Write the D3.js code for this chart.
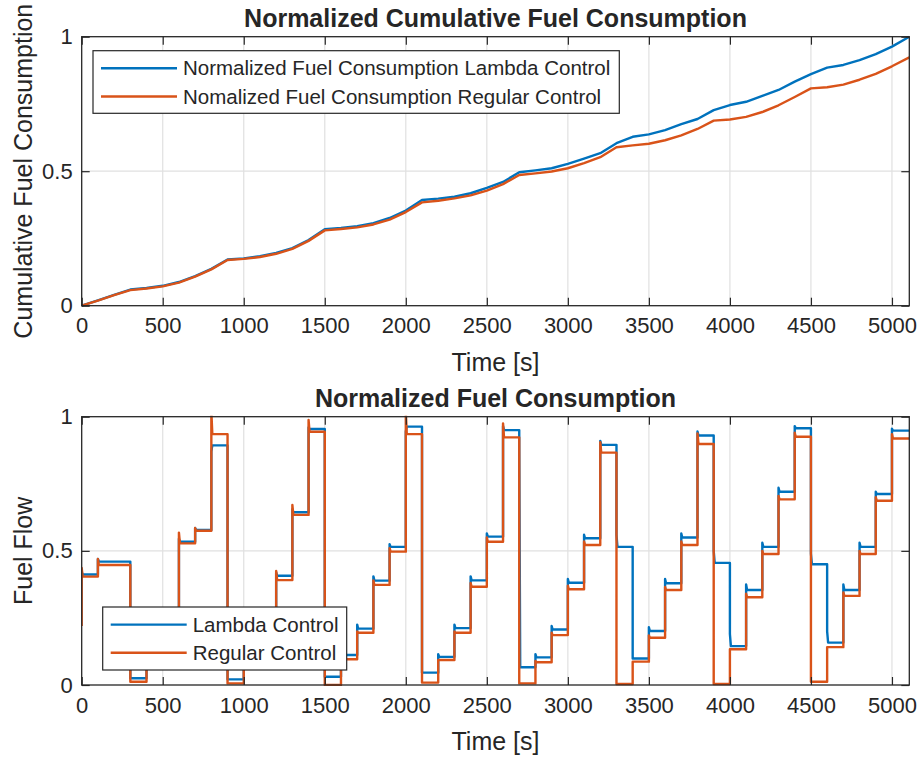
<!DOCTYPE html>
<meta charset="utf-8">
<html>
<head>
<script src="https://d3js.org/d3.v7.min.js"></script>
<style>
  body { margin: 0; background: #fff; }
  text { font-family: "Liberation Sans", Arial, Helvetica, sans-serif; fill: #262626; }
</style>
</head>
<body>
<svg width="921" height="760"></svg>
<script>

// time knots of the cumulative curves [s]
var cumTime = [0,100,200,300,400,500,600,700,800,900,1000,1100,1200,1300,1400,1500,1600,1700,1800,1900,
  2000,2100,2200,2300,2400,2500,2600,2700,2800,2900,3000,3100,3200,3300,3400,3500,3600,3700,3800,3900,
  4000,4100,4200,4300,4400,4500,4600,4700,4800,4900,5000,5107];

var lambdaCum = [0,0.02,0.04,0.06,0.066,0.074,0.088,0.11,0.137,0.172,0.176,0.184,0.196,0.214,0.244,0.284,0.289,0.296,0.307,0.326,
  0.354,0.393,0.398,0.405,0.418,0.438,0.46,0.496,0.503,0.511,0.527,0.547,0.567,0.604,0.628,0.637,0.653,0.675,0.694,0.727,
  0.746,0.758,0.78,0.802,0.833,0.861,0.885,0.895,0.913,0.935,0.963,1.0];

var regularCum = [0,0.019,0.039,0.058,0.064,0.072,0.086,0.108,0.135,0.17,0.174,0.181,0.193,0.211,0.241,0.28,0.285,0.291,0.302,0.32,
  0.348,0.384,0.39,0.399,0.41,0.428,0.452,0.486,0.492,0.499,0.511,0.53,0.552,0.589,0.596,0.602,0.615,0.633,0.657,0.688,
  0.692,0.702,0.72,0.745,0.776,0.808,0.812,0.822,0.84,0.862,0.89,0.923];

// set-point segments of the fuel flow [s]
var segStart = [0,100,200,300,400,500,600,700,800,900,1000,1100,1200,1300,1400,1500,1600,1700,1800,1900,
  2000,2100,2200,2300,2400,2500,2600,2700,2800,2900,3000,3100,3200,3300,3400,3500,3600,3700,3800,3900,
  4000,4100,4200,4300,4400,4500,4600,4700,4800,4900,5000];
var tEnd = 5107;

// value right after each step and settled value
var lambdaStart = [0.42,0.47,0.46,0.025,0.11,0.21,0.545,0.585,0.87,0.021,0.11,0.21,0.42,0.655,0.96,0.031,0.125,0.225,0.405,0.525,
  0.945,0.046,0.115,0.225,0.405,0.565,0.965,0.9,0.115,0.22,0.395,0.56,0.91,0.56,0.099,0.215,0.395,0.565,0.945,0.5,
  0.19,0.375,0.53,0.735,0.965,0.49,0.2,0.375,0.53,0.72,0.955];
var lambdaLevel = [0.412,0.46,0.46,0.025,0.11,0.21,0.534,0.578,0.893,0.021,0.11,0.21,0.407,0.644,0.954,0.031,0.112,0.21,0.389,0.515,
  0.963,0.046,0.105,0.212,0.39,0.553,0.95,0.066,0.103,0.207,0.381,0.547,0.895,0.515,0.099,0.201,0.379,0.55,0.93,0.455,
  0.145,0.354,0.515,0.72,0.957,0.45,0.158,0.354,0.515,0.712,0.948];

var regularInitial = 0.22;
var regularStart = [0.436,0.47,0.447,0.012,0.095,0.195,0.568,0.585,1.02,0.006,0.095,0.195,0.425,0.671,0.988,0,0.1,0.2,0.39,0.51,
  1.02,0.009,0.093,0.2,0.38,0.55,0.975,0.006,0.09,0.195,0.37,0.535,0.905,0.004,0.087,0.185,0.365,0.535,0.938,0.004,
  0.133,0.34,0.5,0.705,0.94,0.012,0.141,0.345,0.5,0.7,0.935];
var regularLevel = [0.404,0.447,0.447,0.012,0.095,0.195,0.528,0.575,0.935,0.006,0.095,0.195,0.391,0.634,0.944,0,0.096,0.195,0.373,0.497,
  0.935,0.009,0.093,0.195,0.366,0.534,0.923,0.006,0.085,0.186,0.357,0.522,0.866,0.004,0.087,0.176,0.354,0.522,0.898,0.004,
  0.133,0.327,0.488,0.692,0.925,0.012,0.141,0.332,0.488,0.687,0.919];

var xTicks = [0,500,1000,1500,2000,2500,3000,3500,4000,4500,5000];
var yTicks = [0,0.5,1];

var BLUE = "#0072BD", RED = "#D95319", AXC = "#262626";
var FONT = "'Liberation Sans', Arial, sans-serif";
var SETTLE = 6;

var svg = d3.select("svg");
var left = 81.7, right = 909.3;

var x = d3.scaleLinear().domain([0, tEnd]).range([left, right]);

function stepPoints(start, level, first) {
  var pts = [];
  if (first != null) pts.push([0, first]);
  segStart.forEach(function(t0, i) {
    var t1 = i + 1 < segStart.length ? segStart[i + 1] : tEnd;
    pts.push([t0, start[i]]);
    pts.push([t0 + SETTLE, level[i]]);
    pts.push([t1, level[i]]);
  });
  return pts;
}

function drawPanel(cfg) {
  var y = d3.scaleLinear().domain([0, 1]).range([cfg.bottom, cfg.top]);
  var g = svg.append("g");

  // grid
  g.append("g").selectAll("line").data(xTicks.slice(1)).enter().append("line")
    .attr("x1", function(d) { return x(d); }).attr("x2", function(d) { return x(d); })
    .attr("y1", cfg.top).attr("y2", cfg.bottom)
    .attr("stroke", "#e0e0e0").attr("stroke-width", 1.2);
  g.append("g").selectAll("line").data([0.5]).enter().append("line")
    .attr("x1", left).attr("x2", right)
    .attr("y1", function(d) { return y(d); }).attr("y2", function(d) { return y(d); })
    .attr("stroke", "#e0e0e0").attr("stroke-width", 1.2);

  // lines
  var clipId = "clip" + cfg.id;
  svg.append("clipPath").attr("id", clipId).append("rect")
    .attr("x", left).attr("y", cfg.top - 1).attr("width", right - left).attr("height", cfg.bottom - cfg.top + 2);
  var line = d3.line().x(function(d) { return x(d[0]); }).y(function(d) { return y(d[1]); });
  var lg = g.append("g").attr("clip-path", "url(#" + clipId + ")");
  cfg.series.forEach(function(s) {
    lg.append("path").datum(s.points).attr("d", line)
      .attr("fill", "none").attr("stroke", s.color).attr("stroke-width", 2.4)
      .attr("stroke-linejoin", "round");
  });

  // axes
  g.append("g").attr("transform", "translate(0," + cfg.bottom + ")")
    .call(d3.axisBottom(x).tickValues(xTicks).tickSizeInner(-8).tickSizeOuter(0).tickPadding(12)
      .tickFormat(d3.format("d")));
  g.append("g").attr("transform", "translate(0," + cfg.top + ")")
    .call(d3.axisTop(x).tickValues(xTicks).tickSizeInner(-8).tickSizeOuter(0).tickFormat(""));
  g.append("g").attr("transform", "translate(" + left + ",0)")
    .call(d3.axisLeft(y).tickValues(yTicks).tickSizeInner(-8).tickSizeOuter(0).tickPadding(9)
      .tickFormat(function(d) { return d === 0.5 ? "0.5" : d; }));
  g.append("g").attr("transform", "translate(" + right + ",0)")
    .call(d3.axisRight(y).tickValues(yTicks).tickSizeInner(-8).tickSizeOuter(0).tickFormat(""));
  g.selectAll(".domain").remove();
  g.selectAll(".tick line").attr("stroke", AXC).attr("stroke-width", 1.2);
  g.selectAll(".tick text").attr("font-size", 22).attr("font-family", FONT).attr("fill", AXC);

  g.append("rect").attr("x", left).attr("y", cfg.top).attr("width", right - left).attr("height", cfg.bottom - cfg.top)
    .attr("fill", "none").attr("stroke", AXC).attr("stroke-width", 1.3);

  // labels
  g.append("text").attr("x", (left + right) / 2).attr("y", cfg.top - 10)
    .attr("text-anchor", "middle").attr("font-size", 25).attr("font-weight", "bold").attr("fill", "#000")
    .text(cfg.title);
  g.append("text").attr("x", (left + right) / 2).attr("y", cfg.bottom + 65)
    .attr("text-anchor", "middle").attr("font-size", 25).text("Time [s]");
  g.append("text").attr("transform", "translate(32," + (cfg.top + cfg.bottom) / 2 + ") rotate(-90)")
    .attr("text-anchor", "middle").attr("font-size", 25).text(cfg.ylabel);

  // legend
  var L = cfg.legend;
  var leg = g.append("g");
  leg.append("rect").attr("x", L.x).attr("y", L.y).attr("width", L.w).attr("height", L.h)
    .attr("fill", "#fff").attr("stroke", AXC).attr("stroke-width", 1.2);
  cfg.series.forEach(function(s, i) {
    var yy = L.y + 17.6 + i * 28.2;
    leg.append("line").attr("x1", L.x + 8).attr("x2", L.x + 84).attr("y1", yy).attr("y2", yy)
      .attr("stroke", s.color).attr("stroke-width", 2.4);
    leg.append("text").attr("x", L.x + 90).attr("y", yy).attr("dy", "0.35em")
      .attr("font-size", 20.5).attr("fill", "#000").text(s.name);
  });
}

drawPanel({
  id: 1, top: 36.7, bottom: 305.7,
  title: "Normalized Cumulative Fuel Consumption",
  ylabel: "Cumulative Fuel Consumption",
  series: [
    {name: "Normalized Fuel Consumption Lambda Control", color: BLUE,
     points: cumTime.map(function(t, i) { return [t, lambdaCum[i]]; })},
    {name: "Nomalized Fuel Consumption Regular Control", color: RED,
     points: cumTime.map(function(t, i) { return [t, regularCum[i]]; })}
  ],
  legend: {x: 93, y: 50.7, w: 526.3, h: 62.6}
});

drawPanel({
  id: 2, top: 416.7, bottom: 685,
  title: "Normalized Fuel Consumption",
  ylabel: "Fuel Flow",
  series: [
    {name: "Lambda Control", color: BLUE, points: stepPoints(lambdaStart, lambdaLevel, null)},
    {name: "Regular Control", color: RED, points: stepPoints(regularStart, regularLevel, regularInitial)}
  ],
  legend: {x: 102.7, y: 607, w: 244, h: 63}
});

</script>
</body>
</html>
